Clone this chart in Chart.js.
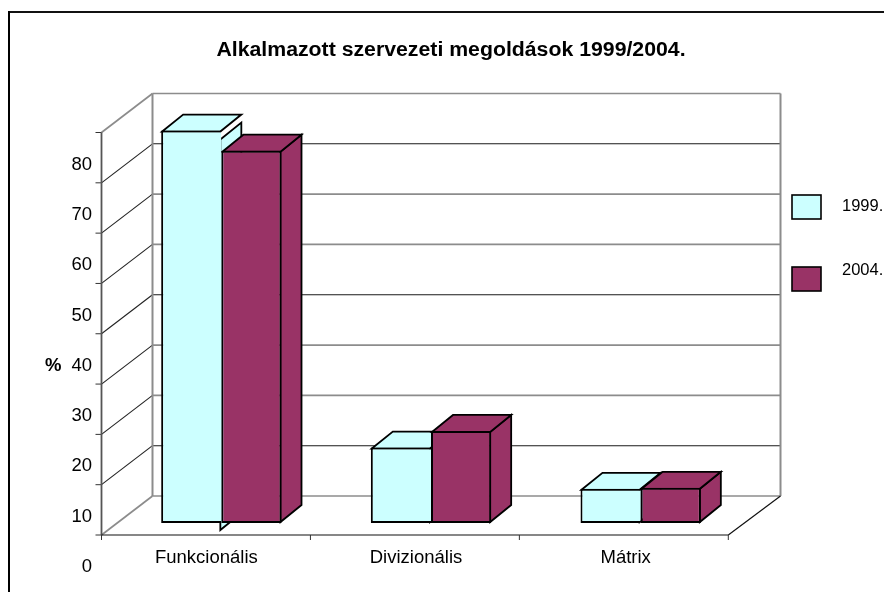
<!DOCTYPE html>
<html lang="hu">
<head>
    <meta charset="UTF-8">
    <title>Alkalmazott szervezeti megoldások 1999/2004.</title>
    <script src="https://cdn.jsdelivr.net/npm/chart.js"></script>
    <style>
        html, body { margin: 0; padding: 0; background: #fff; overflow: hidden; }
        canvas { display: block; }
    </style>
</head>
<body>
    <canvas id="chart" width="884" height="592"></canvas>

    <script>
        const chartTitle = 'Alkalmazott szervezeti megoldások 1999/2004.';
        const categories = ['Funkcionális', 'Divizionális', 'Mátrix'];
        const seriesNames = ['1999.', '2004.'];
        const values1999 = [78, 15, 6.8];
        const values2004 = [74, 18.3, 7];
        const yTicks = [0, 10, 20, 30, 40, 50, 60, 70, 80];

        const CYAN = '#CCFFFF';
        const MAROON = '#993366';
        const FONT = "'Liberation Sans', Arial, sans-serif";

        // back wall / front edge sit at fixed offsets from the bar plane
        const BACK = { dx: 36, dy: -27 };
        const FRONT = { dx: -15, dy: 12 };
        const BAR_DEPTH = { dx: 21, dy: -17 };
        const GRID_DARK = [false, true, false, false, true, false, false, true, false];

        function line(ctx, x1, y1, x2, y2, color, width) {
            ctx.beginPath();
            ctx.moveTo(x1, y1);
            ctx.lineTo(x2, y2);
            ctx.strokeStyle = color;
            ctx.lineWidth = width;
            ctx.stroke();
        }

        function face(ctx, pts, fill) {
            ctx.beginPath();
            pts.forEach((p, i) => i ? ctx.lineTo(p[0], p[1]) : ctx.moveTo(p[0], p[1]));
            ctx.closePath();
            ctx.fillStyle = fill;
            ctx.fill();
            ctx.strokeStyle = '#000';
            ctx.lineWidth = 1.8;
            ctx.lineJoin = 'miter';
            ctx.stroke();
        }

        const walls = {
            id: 'walls',
            beforeDatasetsDraw(chart) {
                const { ctx, scales: { x, y } } = chart;
                const gray = '#8c8c8c';
                const backL = x.left + BACK.dx, backR = x.right + BACK.dx - 1;
                const frontL = x.left + FRONT.dx;
                const step = x.width / categories.length * 0.9965;
                const frontR = frontL + step * categories.length;
                const y0 = y.getPixelForValue(0);
                ctx.save();

                // chart frame, only top and left fall inside the picture
                line(ctx, 9, 12, 884, 12, '#111', 2);
                line(ctx, 9, 11, 9, 592, '#000', 2);

                // back wall and left wall
                yTicks.forEach((v, i) => {
                    const py = y.getPixelForValue(v);
                    const dark = GRID_DARK[i];
                    const col = dark ? '#1a1a1a' : gray;
                    const w = dark ? 1.1 : 1.7;
                    line(ctx, backL, py + BACK.dy, backR, py + BACK.dy, col, w);
                    if (v === 0 || v === 80) line(ctx, frontL, py + FRONT.dy, backL, py + BACK.dy, gray, 1.7);
                    else line(ctx, frontL, py + FRONT.dy, backL, py + BACK.dy, '#222', 1.1);
                    line(ctx, frontL - 6, py + FRONT.dy, frontL, py + FRONT.dy, '#333', 1);
                });
                line(ctx, backL, y.top + BACK.dy, backL, y0 + BACK.dy, gray, 2);
                line(ctx, backR, y.top + BACK.dy, backR, y0 + BACK.dy, gray, 2);
                line(ctx, frontL, y.top + FRONT.dy, frontL, y0 + FRONT.dy, '#555', 1.8);

                // floor
                line(ctx, frontL, y0 + FRONT.dy, frontR, y0 + FRONT.dy, '#111', 1.2);
                line(ctx, frontR, y0 + FRONT.dy, backR, y0 + BACK.dy, '#111', 1.2);
                for (let i = 0; i <= categories.length; i++) {
                    const tx = frontL + step * i;
                    line(ctx, tx, y0 + FRONT.dy, tx, y0 + FRONT.dy + 5, '#333', 1);
                }

                // bar tops and right sides, the fronts come from the library
                chart.data.datasets.forEach((ds, d) => {
                    chart.getDatasetMeta(d).data.forEach((bar, i) => {
                        const l = bar.x - bar.width / 2 + 1, r = bar.x + bar.width / 2 - 1;
                        const t = bar.y + 1, b = bar.base - 1;
                        // the first cyan side is printed lower than its bar in the original
                        const drop = d === 0 && i === 0 ? 8 : 0;
                        const dx = BAR_DEPTH.dx, dy = BAR_DEPTH.dy;
                        face(ctx, [[r, t + drop], [r + dx, t + drop + dy], [r + dx, b + drop + dy], [r, b + drop]], ds.backgroundColor);
                        face(ctx, [[l, t], [l + dx, t + dy], [r + dx, t + dy], [r, t]], ds.backgroundColor);
                    });
                });
                ctx.restore();
            },
            afterDraw(chart) {
                const { ctx } = chart;
                ctx.save();
                ctx.textBaseline = 'middle';
                ctx.fillStyle = '#000';

                // title, a bit wider than the font's natural width
                ctx.save();
                ctx.translate(451, 50);
                ctx.scale(1.063, 1);
                ctx.textAlign = 'center';
                ctx.font = 'bold 20px ' + FONT;
                ctx.fillText(chartTitle, 0, 0);
                ctx.restore();

                ctx.font = 'bold 18.5px ' + FONT;
                ctx.fillText('%', 45, 366);

                // legend
                const boxes = [[792, 195], [792, 267]];
                const textY = [206, 270];
                seriesNames.forEach((name, i) => {
                    ctx.fillStyle = chart.data.datasets[i].backgroundColor;
                    ctx.fillRect(boxes[i][0], boxes[i][1], 29, 24);
                    ctx.strokeStyle = '#000';
                    ctx.lineWidth = 1.6;
                    ctx.strokeRect(boxes[i][0], boxes[i][1], 29, 24);
                    ctx.fillStyle = '#000';
                    ctx.font = '16.5px ' + FONT;
                    ctx.fillText(name, 842, textY[i]);
                });
                ctx.restore();
            }
        };

        new Chart(document.getElementById('chart').getContext('2d'), {
            type: 'bar',
            data: {
                labels: categories,
                datasets: [
                    {
                        label: seriesNames[0], data: values1999, backgroundColor: CYAN,
                        borderWidth: { top: 2, left: 2, bottom: 2, right: 0 }
                    },
                    { label: seriesNames[1], data: values2004, backgroundColor: MAROON }
                ]
            },
            options: {
                responsive: false,
                animation: false,
                layout: { padding: { left: 19, right: 138.5, top: 120.5, bottom: 0 } },
                datasets: {
                    bar: {
                        borderColor: '#000',
                        borderWidth: 2,
                        borderSkipped: false,
                        barPercentage: 1,
                        categoryPercentage: 0.574
                    }
                },
                plugins: {
                    legend: { display: false },
                    tooltip: { enabled: false },
                    title: { display: false }
                },
                scales: {
                    x: {
                        afterFit(scale) { scale.height = 69; },
                        grid: { display: false },
                        border: { display: false },
                        ticks: {
                            color: '#000',
                            font: { family: FONT, size: 18.5 },
                            padding: 16,
                            labelOffset: -15,
                            maxRotation: 0,
                            autoSkip: false
                        }
                    },
                    y: {
                        min: 0,
                        max: 80,
                        afterFit(scale) { scale.width = 97.5; },
                        afterBuildTicks(scale) { scale.ticks = yTicks.map(v => ({ value: v })); },
                        grid: { display: false },
                        border: { display: false },
                        ticks: {
                            color: '#000',
                            font: { family: FONT, size: 18.5 },
                            padding: 16.5,
                            labelOffset: 44
                        }
                    }
                }
            },
            plugins: [walls]
        });
    </script>
</body>
</html>
